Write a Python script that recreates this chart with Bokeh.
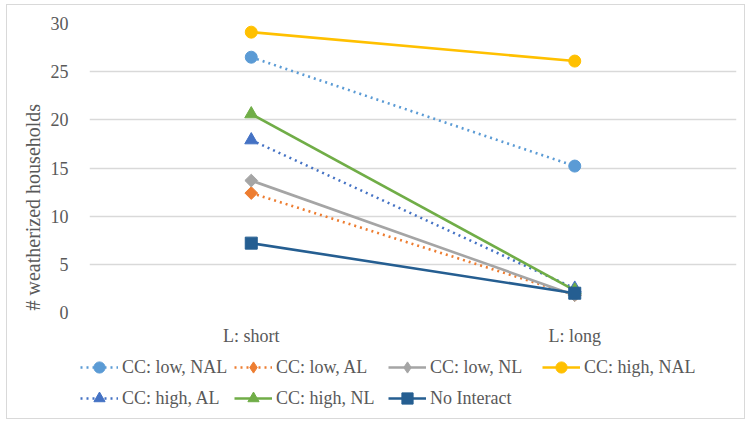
import math
from bokeh.plotting import figure
from bokeh.models import (FactorRange, Range1d, Legend, LegendItem, Title,
                          SingleIntervalTicker)
from bokeh.embed import file_html
from bokeh.resources import INLINE

# Weatherized households by lock-in period and interaction condition
periods = ["L: short", "L: long"]

cc_low_nal = [26.5, 15.2]
cc_low_al = [12.4, 1.8]
cc_low_nl = [13.7, 1.8]
cc_high_nal = [29.1, 26.1]
cc_high_al = [17.9, 2.5]
cc_high_nl = [20.6, 2.3]
no_interact = [7.2, 2.0]

series = [
    ("CC: low, NAL", cc_low_nal, "#5B9BD5", "dotted", "circle"),
    ("CC: low, AL", cc_low_al, "#ED7D31", "dotted", "diamond"),
    ("CC: low, NL", cc_low_nl, "#A5A5A5", "solid", "diamond"),
    ("CC: high, NAL", cc_high_nal, "#FFC000", "solid", "circle"),
    ("CC: high, AL", cc_high_al, "#4472C4", "dotted", "triangle"),
    ("CC: high, NL", cc_high_nl, "#70AD47", "solid", "triangle"),
    ("No Interact", no_interact, "#255E91", "solid", "square"),
]

FONT = "Liberation Serif"
TEXT = "#595959"
GRID = "#D9D9D9"
BORDER = "1px solid #D9D9D9"

p = figure(
    width=739, height=343,
    x_range=FactorRange(*periods, range_padding=0),
    y_range=Range1d(0, 30),
    output_backend="svg", toolbar_location=None,
    min_border_left=82, min_border_right=10,
    min_border_top=18, min_border_bottom=30,
)
p.margin = (4, 0, 0, 6)
p.styles = {"border": BORDER, "border-bottom": "none"}
p.outline_line_color = None
p.xgrid.grid_line_color = None
p.ygrid.grid_line_color = GRID
p.ygrid.grid_line_width = 1.3
p.yaxis.ticker = SingleIntervalTicker(interval=5)

for ax in (p.xaxis, p.yaxis):
    ax.axis_line_color = None
    ax.major_tick_line_color = None
    ax.minor_tick_line_color = None
    ax.major_label_text_font = FONT
    ax.major_label_text_font_size = "18px"
    ax.major_label_text_color = TEXT
p.yaxis.major_label_standoff = 15
p.xaxis.major_label_standoff = 7

# value-axis caption, started near the bottom of the plot area
p.add_layout(Title(
    text="# weatherized households", align="left", offset=2, standoff=8,
    text_font=FONT, text_font_size="20px", text_color=TEXT,
    text_font_style="normal",
), "left")


def add_series(fig, xs, ys, color, style, marker, in_legend=False):
    dash = "2 4" if style == "dotted" else "solid"
    ln = fig.line(xs, ys, line_color=color, line_width=2.6, line_dash=dash)
    if marker == "diamond":
        if in_legend:
            mk = fig.scatter(xs, ys, marker="diamond", size=14,
                             fill_color=color, line_color=color)
        else:
            mk = fig.scatter(xs, ys, marker="square", size=9, angle=math.pi / 4,
                             fill_color=color, line_color=color)
    elif marker == "triangle":
        mk = fig.scatter(xs, ys, marker="triangle", size=13,
                         fill_color=color, line_color=color)
    elif marker == "square":
        mk = fig.scatter(xs, ys, marker="square", size=12,
                         fill_color=color, line_color=color)
    else:
        mk = fig.scatter(xs, ys, marker="circle", size=12,
                         fill_color=color, line_color=color)
    return ln, mk


# legend strip underneath the plot area (its own series sit outside its range)
leg = figure(
    width=739, height=72,
    x_range=FactorRange(*periods, range_padding=0), y_range=Range1d(100, 101),
    output_backend="svg", toolbar_location=None,
    x_axis_location=None, y_axis_location=None,
    min_border=0,
)
leg.margin = (0, 0, 0, 6)
leg.styles = {"border": BORDER, "border-top": "none"}
leg.outline_line_color = None
leg.grid.visible = False

items = []
for name, vals, color, style, marker in series:
    add_series(p, periods, vals, color, style, marker)
    ln, mk = add_series(leg, periods, vals, color, style, marker, in_legend=True)
    items.append(LegendItem(label=name, renderers=[ln, mk]))

legend = Legend(
    items=items, ncols=4, location=(73, 7),
    orientation="horizontal",
    label_text_font=FONT, label_text_font_size="18px", label_text_color=TEXT,
    glyph_width=38, glyph_height=28, label_height=28, label_width=109,
    label_standoff=4, spacing=3, padding=0, margin=0,
    border_line_color=None, background_fill_alpha=0,
)
leg.add_layout(legend, "center")

open("out.html", "w").write(file_html([p, leg], INLINE))
